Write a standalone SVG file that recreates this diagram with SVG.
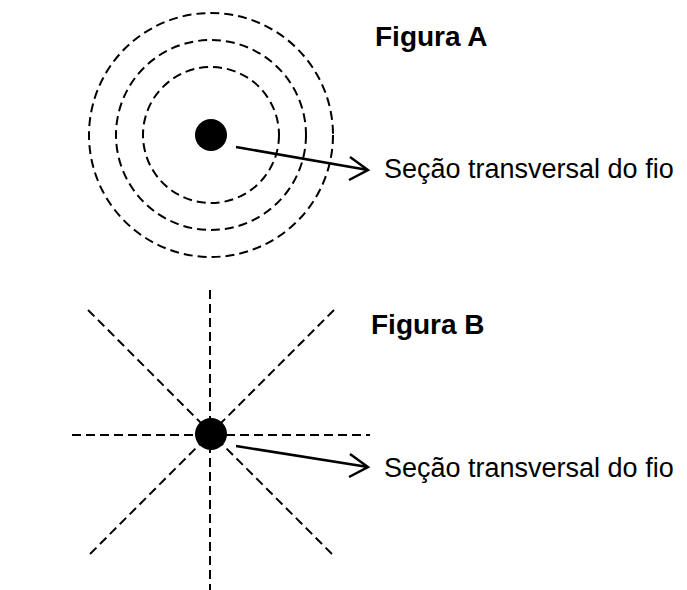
<svg xmlns="http://www.w3.org/2000/svg" width="687" height="590" viewBox="0 0 687 590">
<style>
.d{fill:none;stroke:#000;stroke-width:2;stroke-dasharray:9 5}
.a{fill:none;stroke:#000;stroke-width:2.5}
.t{font-family:"Liberation Sans",Arial,sans-serif;font-size:27px}
.b{font-family:"Liberation Sans",Arial,sans-serif;font-size:28px;font-weight:bold}
</style>
<rect width="687" height="590" fill="#fff"/>
<g id="figA">
<circle class="d" cx="211" cy="135" r="68"/>
<circle class="d" cx="211" cy="135" r="95"/>
<circle class="d" cx="211" cy="135" r="122"/>
<circle cx="211" cy="135" r="16"/>
<text class="b" x="375" y="46">Figura A</text>
<text class="t" x="384" y="178">Seção transversal do fio</text>
</g>
<g id="figB">
<line class="d" x1="210" y1="290" x2="210" y2="590"/>
<line class="d" x1="72" y1="435" x2="370" y2="435"/>
<line class="d" x1="88" y1="310" x2="334" y2="556"/>
<line class="d" x1="334" y1="310" x2="90" y2="554"/>
<circle cx="211" cy="434" r="16"/>
<text class="b" x="371" y="334">Figura B</text>
<text class="t" x="384" y="477">Seção transversal do fio</text>
</g>
<g id="connectors">
<path class="a" d="M236 147 L368 170 M350 157 L368 170 L349 180"/>
<path class="a" d="M236 446 L368 467 M350 454 L368 467 L349 477"/>
</g>
</svg>
